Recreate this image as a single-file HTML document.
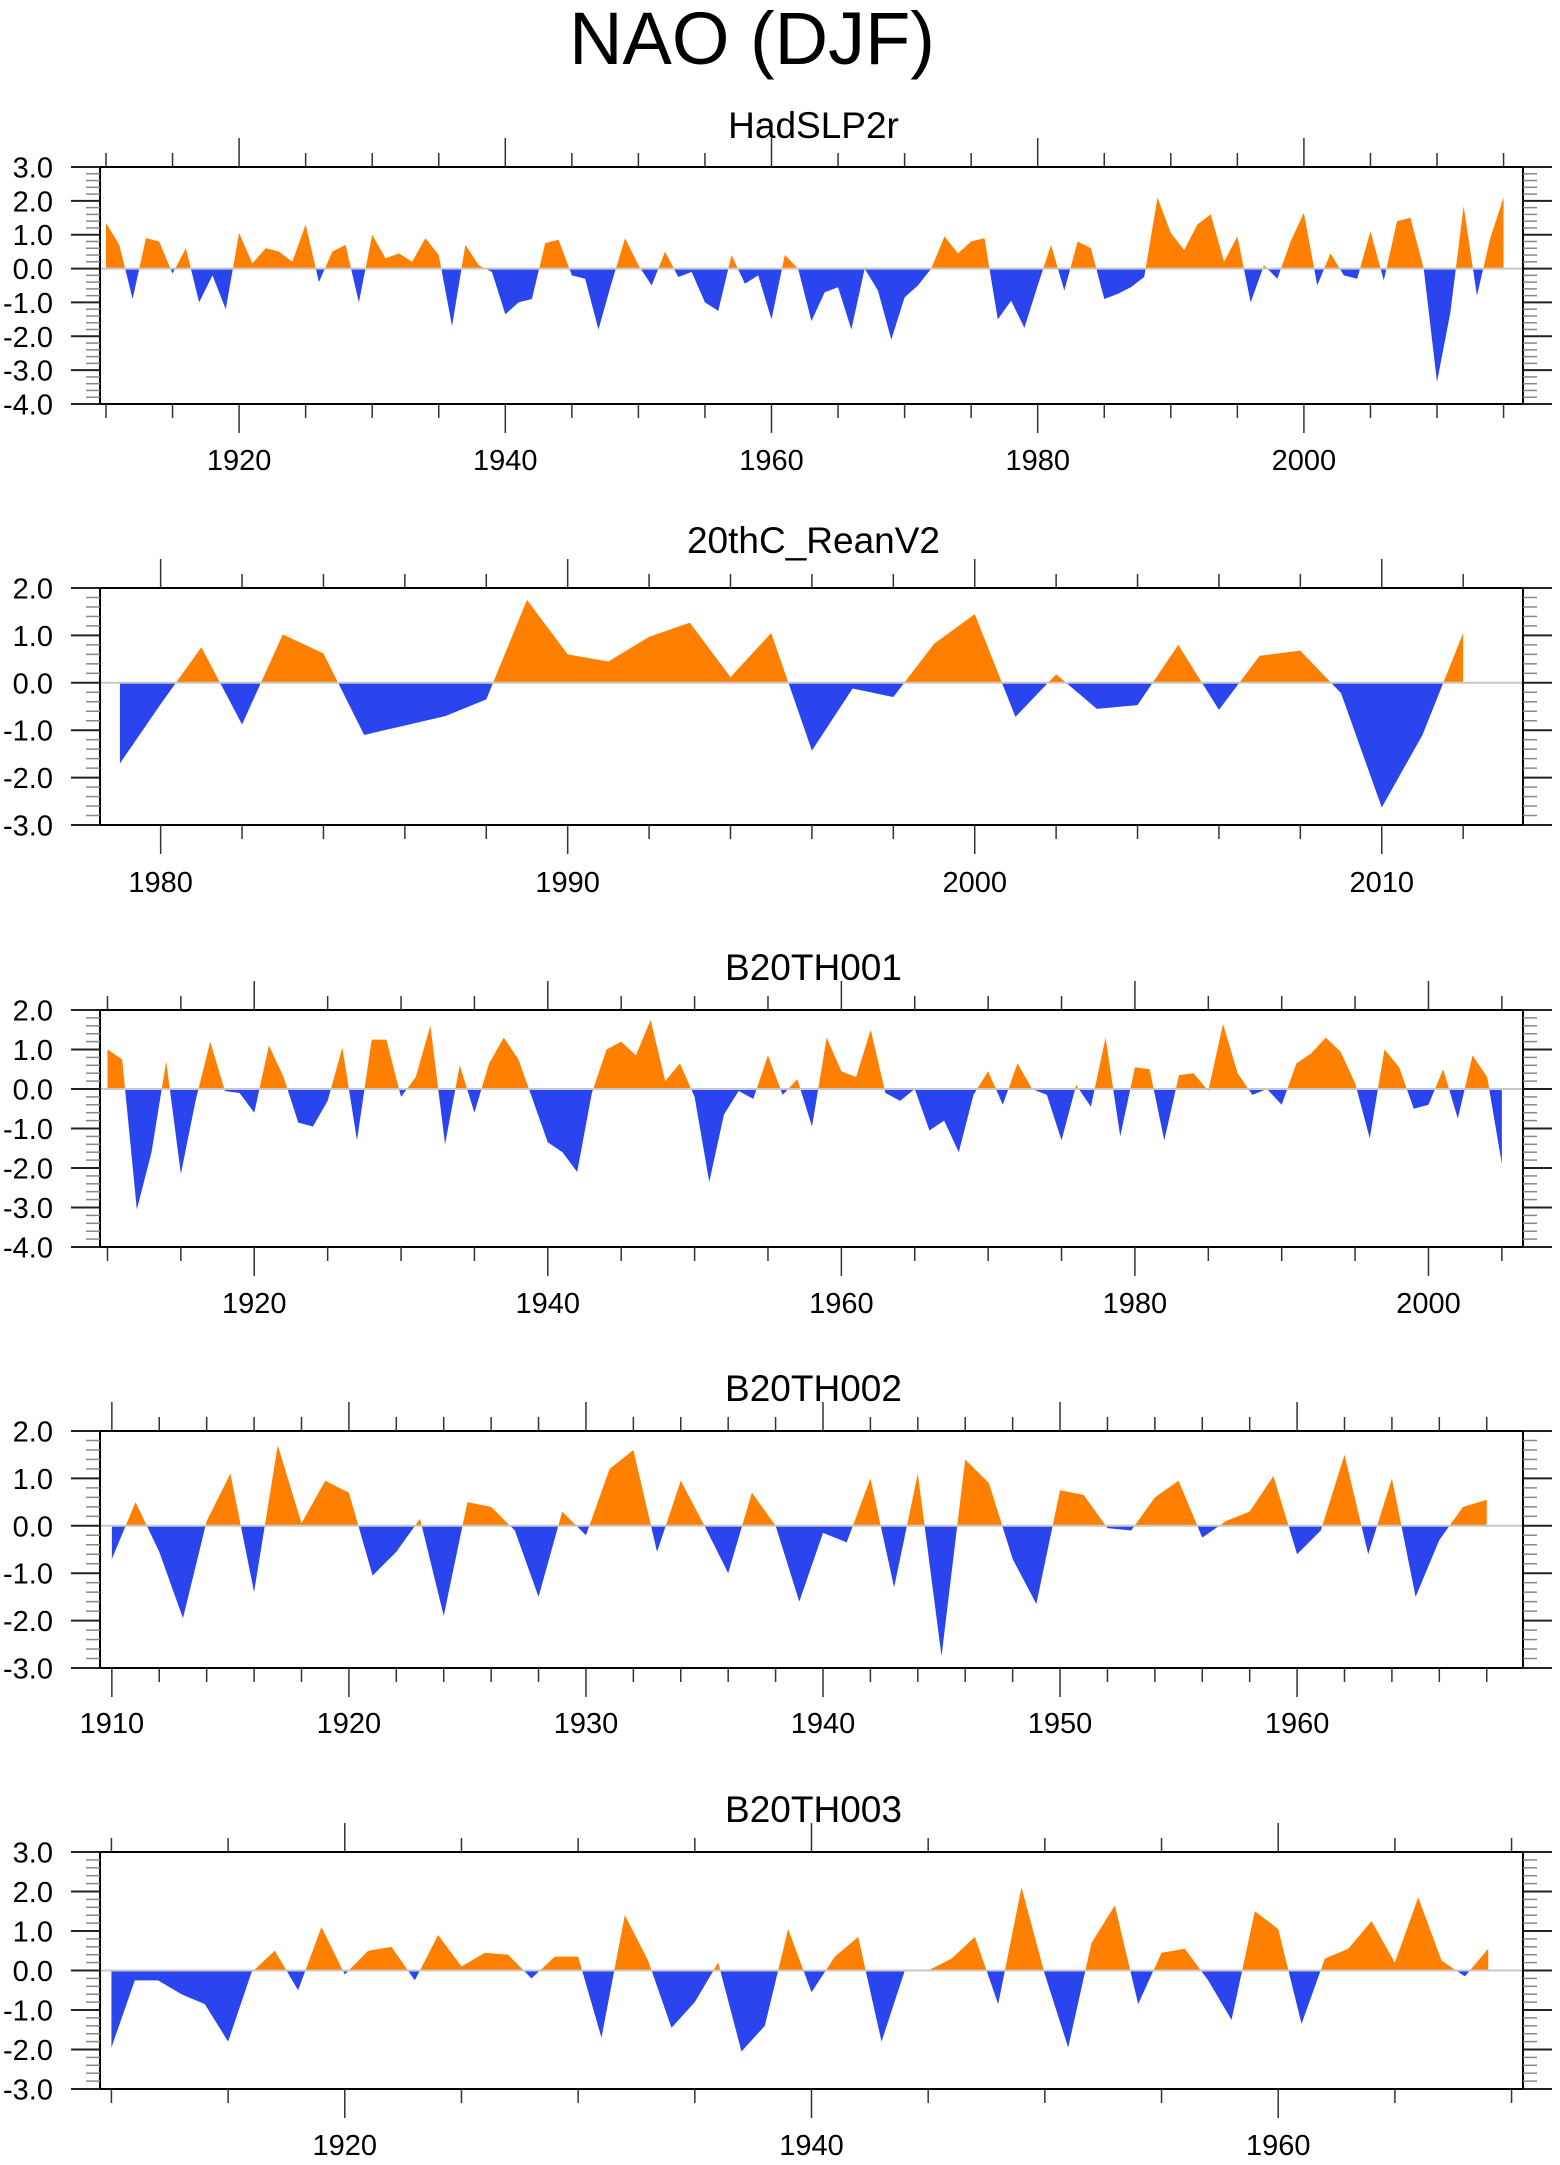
<!DOCTYPE html>
<html><head><meta charset="utf-8"><title>NAO (DJF)</title>
<style>
html,body{margin:0;padding:0;background:#fff;}
svg{display:block;font-family:"Liberation Sans",Arial,sans-serif;}
</style></head>
<body>
<svg id="chart" xmlns="http://www.w3.org/2000/svg" width="1560" height="2165" viewBox="0 0 1560 2165">
<rect x="0" y="0" width="1560" height="2165" fill="#fff"/>
<text x="752" y="64" font-size="74" text-anchor="middle" fill="#000">NAO (DJF)</text>
</svg>
<script>
// ---- data ----
const hadYears0 = 1910;
const hadValues = [1.35,0.7,-0.9,0.9,0.8,-0.15,0.6,-1.0,-0.2,-1.2,
1.05,0.15,0.6,0.5,0.2,1.3,-0.4,0.5,0.7,-1.0,
1.0,0.3,0.45,0.2,0.9,0.4,-1.7,0.7,0.1,-0.1,
-1.35,-1.0,-0.9,0.75,0.85,-0.2,-0.3,-1.8,-0.4,0.9,
0.1,-0.5,0.5,-0.25,-0.1,-1.0,-1.25,0.4,-0.45,-0.2,
-1.5,0.4,0.0,-1.55,-0.7,-0.55,-1.8,0.0,-0.65,-2.1,
-0.85,-0.5,0.0,0.95,0.45,0.8,0.9,-1.5,-0.95,-1.75,
-0.5,0.7,-0.65,0.8,0.6,-0.9,-0.75,-0.55,-0.25,2.1,
1.05,0.55,1.3,1.6,0.2,0.95,-1.0,0.1,-0.3,0.8,
1.65,-0.5,0.45,-0.2,-0.3,1.1,-0.35,1.4,1.5,0.0,
-3.35,-1.3,1.85,-0.8,0.9,2.1];
const reanYears0 = 1979;
const reanValues = [-1.7,-0.45,0.75,-0.88,1.02,0.62,-1.1,-0.9,-0.7,-0.35,
1.75,0.6,0.45,0.97,1.27,0.12,1.05,-1.43,-0.12,-0.3,
0.82,1.45,-0.72,0.18,-0.55,-0.47,0.8,-0.57,0.57,0.68,
-0.22,-2.63,-1.1,1.05];
const b1Years0 = 1910;
const b1Values = [1.0,0.75,-3.05,-1.6,0.7,-2.15,-0.3,1.2,-0.05,-0.1,
-0.6,1.1,0.3,-0.85,-0.95,-0.3,1.05,-1.3,1.25,1.25,
-0.2,0.3,1.6,-1.4,0.6,-0.6,0.65,1.3,0.75,-0.3,
-1.35,-1.6,-2.1,-0.1,1.0,1.2,0.85,1.75,0.2,0.65,
-0.2,-2.35,-0.65,-0.05,-0.25,0.85,-0.15,0.25,-0.95,1.3,
0.45,0.3,1.5,-0.1,-0.3,0.0,-1.05,-0.8,-1.6,-0.15,
0.45,-0.4,0.65,0.0,-0.15,-1.3,0.1,-0.45,1.3,-1.2,
0.55,0.5,-1.3,0.35,0.4,-0.05,1.65,0.4,-0.15,0.0,
-0.4,0.65,0.9,1.3,0.95,0.15,-1.25,1.0,0.55,-0.5,
-0.4,0.5,-0.75,0.85,0.3,-1.9];
const b2Years0 = 1910;
const b2Values = [-0.7,0.5,-0.55,-1.95,0.1,1.1,-1.4,1.7,0.05,0.95,
0.7,-1.05,-0.55,0.15,-1.9,0.5,0.4,-0.1,-1.5,0.3,
-0.2,1.2,1.6,-0.55,0.95,0.0,-1.0,0.7,0.0,-1.6,
-0.15,-0.35,1.0,-1.3,1.1,-2.75,1.4,0.9,-0.7,-1.65,
0.75,0.65,-0.05,-0.1,0.6,0.95,-0.25,0.1,0.3,1.05,
-0.6,-0.1,1.5,-0.6,1.0,-1.5,-0.3,0.4,0.55];
const b3Years0 = 1910;
const b3Values = [-1.95,-0.25,-0.25,-0.6,-0.85,-1.8,-0.05,0.5,-0.5,1.1,
-0.1,0.5,0.6,-0.25,0.9,0.1,0.45,0.4,-0.2,0.35,
0.35,-1.7,1.4,0.25,-1.45,-0.8,0.2,-2.05,-1.4,1.05,
-0.55,0.35,0.85,-1.8,0.0,0.0,0.3,0.85,-0.85,2.1,
-0.1,-1.95,0.7,1.65,-0.85,0.45,0.55,-0.25,-1.25,1.5,
1.05,-1.35,0.3,0.55,1.25,0.2,1.85,0.25,-0.15,0.55];
const yTickLabels1 = ["3.0","2.0","1.0","0.0","-1.0","-2.0","-3.0","-4.0"];
const yTickLabels2 = ["2.0","1.0","0.0","-1.0","-2.0","-3.0"];
const yTickLabels3 = ["2.0","1.0","0.0","-1.0","-2.0","-3.0","-4.0"];
const yTickLabels5 = ["3.0","2.0","1.0","0.0","-1.0","-2.0","-3.0"];

const NS = "http://www.w3.org/2000/svg";
const svg = document.getElementById("chart");
function mk(tag, attrs, parent){
  const e = document.createElementNS(NS, tag);
  for (const k in attrs) e.setAttribute(k, attrs[k]);
  (parent||svg).appendChild(e);
  return e;
}
const FX0 = 100, FX1 = 1523;
const panels = [
 {id:"hadslp2r", title:"HadSLP2r", y0:167, y1:404, ymax:3, ymin:-4, xmin:1909.55, xmax:2016.46, major:20, minor:5, tb:138, lb:470, vals:hadValues, start:hadYears0, labels:yTickLabels1},
 {id:"20thc-reanv2", title:"20thC_ReanV2", y0:588, y1:825, ymax:2, ymin:-3, xmin:1978.51, xmax:2013.47, major:10, minor:2, tb:553, lb:892, vals:reanValues, start:reanYears0, labels:yTickLabels2},
 {id:"b20th001", title:"B20TH001", y0:1010, y1:1247, ymax:2, ymin:-4, xmin:1909.49, xmax:2006.44, major:20, minor:5, tb:980, lb:1313, vals:b1Values, start:b1Years0, labels:yTickLabels3},
 {id:"b20th002", title:"B20TH002", y0:1431, y1:1668, ymax:2, ymin:-3, xmin:1909.5, xmax:1969.53, major:10, minor:2, tb:1401, lb:1733, vals:b2Values, start:b2Years0, labels:yTickLabels2},
 {id:"b20th003", title:"B20TH003", y0:1852, y1:2089, ymax:3, ymin:-3, xmin:1909.51, xmax:1970.49, major:20, minor:5, tb:1822, lb:2155, vals:b3Values, start:b3Years0, labels:yTickLabels5}
];

panels.forEach((p, pi) => {
  const g = mk("g", {});
  
  
  const xs = yr => FX0 + (yr - p.xmin) / (p.xmax - p.xmin) * (FX1 - FX0);
  const ys = v => p.y0 + (p.ymax - v) / (p.ymax - p.ymin) * (p.y1 - p.y0);
  const t = mk("text", {x:(FX0+FX1)/2 + 2, y:p.tb, "font-size":37, "text-anchor":"middle", fill:"#000"}, g);
  t.textContent = p.title;
  
  
  const defs = mk("defs", {}, g);
  const cpPos = mk("clipPath", {id:"pos"+pi}, defs);
  mk("rect", {x:FX0, y:p.y0, width:FX1-FX0, height:ys(0)-p.y0}, cpPos);
  const cpNeg = mk("clipPath", {id:"neg"+pi}, defs);
  mk("rect", {x:FX0, y:ys(0), width:FX1-FX0, height:p.y1-ys(0)}, cpNeg);
  let pts = [];
  p.vals.forEach((v,i) => pts.push(xs(p.start+i).toFixed(2)+","+ys(v).toFixed(2)));
  const xa = xs(p.start), xb = xs(p.start+p.vals.length-1);
  const d = "M"+xa.toFixed(2)+","+ys(0)+" L"+pts.join(" L")+" L"+xb.toFixed(2)+","+ys(0)+" Z";
  const pos = mk("path", {d:d, fill:"#ff8000", "clip-path":"url(#pos"+pi+")"}, g);
  
  
  const neg = mk("path", {d:d, fill:"#2a44ee", "clip-path":"url(#neg"+pi+")"}, g);
  
  
  const zl = mk("line", {x1:FX0, x2:FX1, y1:ys(0), y2:ys(0), stroke:"#c8c8c8", "stroke-width":2}, g);
  
  
  const fr = mk("rect", {x:FX0, y:p.y0, width:FX1-FX0, height:p.y1-p.y0, fill:"none", stroke:"#000", "stroke-width":2}, g);
  
  
  const yax = mk("g", {stroke:"#444"}, g);
  
  
  for (let k = 0; k <= Math.round((p.ymax-p.ymin)/0.2); k++) {
    const v = p.ymax - k*0.2;
    const y = ys(v);
    const isMaj = k % 5 === 0;
    const len = isMaj ? 29 : 14;
    mk("line", {x1:FX0-len, x2:FX0, y1:y, y2:y, "stroke-width":isMaj?2:1.5, stroke:isMaj?"#222":"#888"}, yax);
    mk("line", {x1:FX1, x2:FX1+len, y1:y, y2:y, "stroke-width":isMaj?2:1.5, stroke:isMaj?"#222":"#888"}, yax);
  }
  p.labels.forEach(lbl => {
    const v = parseFloat(lbl);
    const tl = mk("text", {x:53, y:ys(v)+10.5, "font-size":29, "text-anchor":"end", fill:"#000", stroke:"none"}, g);
    tl.textContent = lbl;
    
    
  });
  const xax = mk("g", {stroke:"#333", "stroke-width":1.5}, g);
  
  
  for (let yr = Math.ceil(p.xmin/p.minor)*p.minor; yr <= p.xmax; yr += p.minor) {
    const x = xs(yr);
    const isMaj = yr % p.major === 0;
    const len = isMaj ? 29 : 14;
    mk("line", {x1:x, x2:x, y1:p.y0-len, y2:p.y0}, xax);
    mk("line", {x1:x, x2:x, y1:p.y1, y2:p.y1+len}, xax);
    if (isMaj) {
      const tl = mk("text", {x:x, y:p.lb, "font-size":29, "text-anchor":"middle", fill:"#000", stroke:"none"}, g);
      tl.textContent = String(yr);
      
      
    }
  }
});
</script>
</body></html>
